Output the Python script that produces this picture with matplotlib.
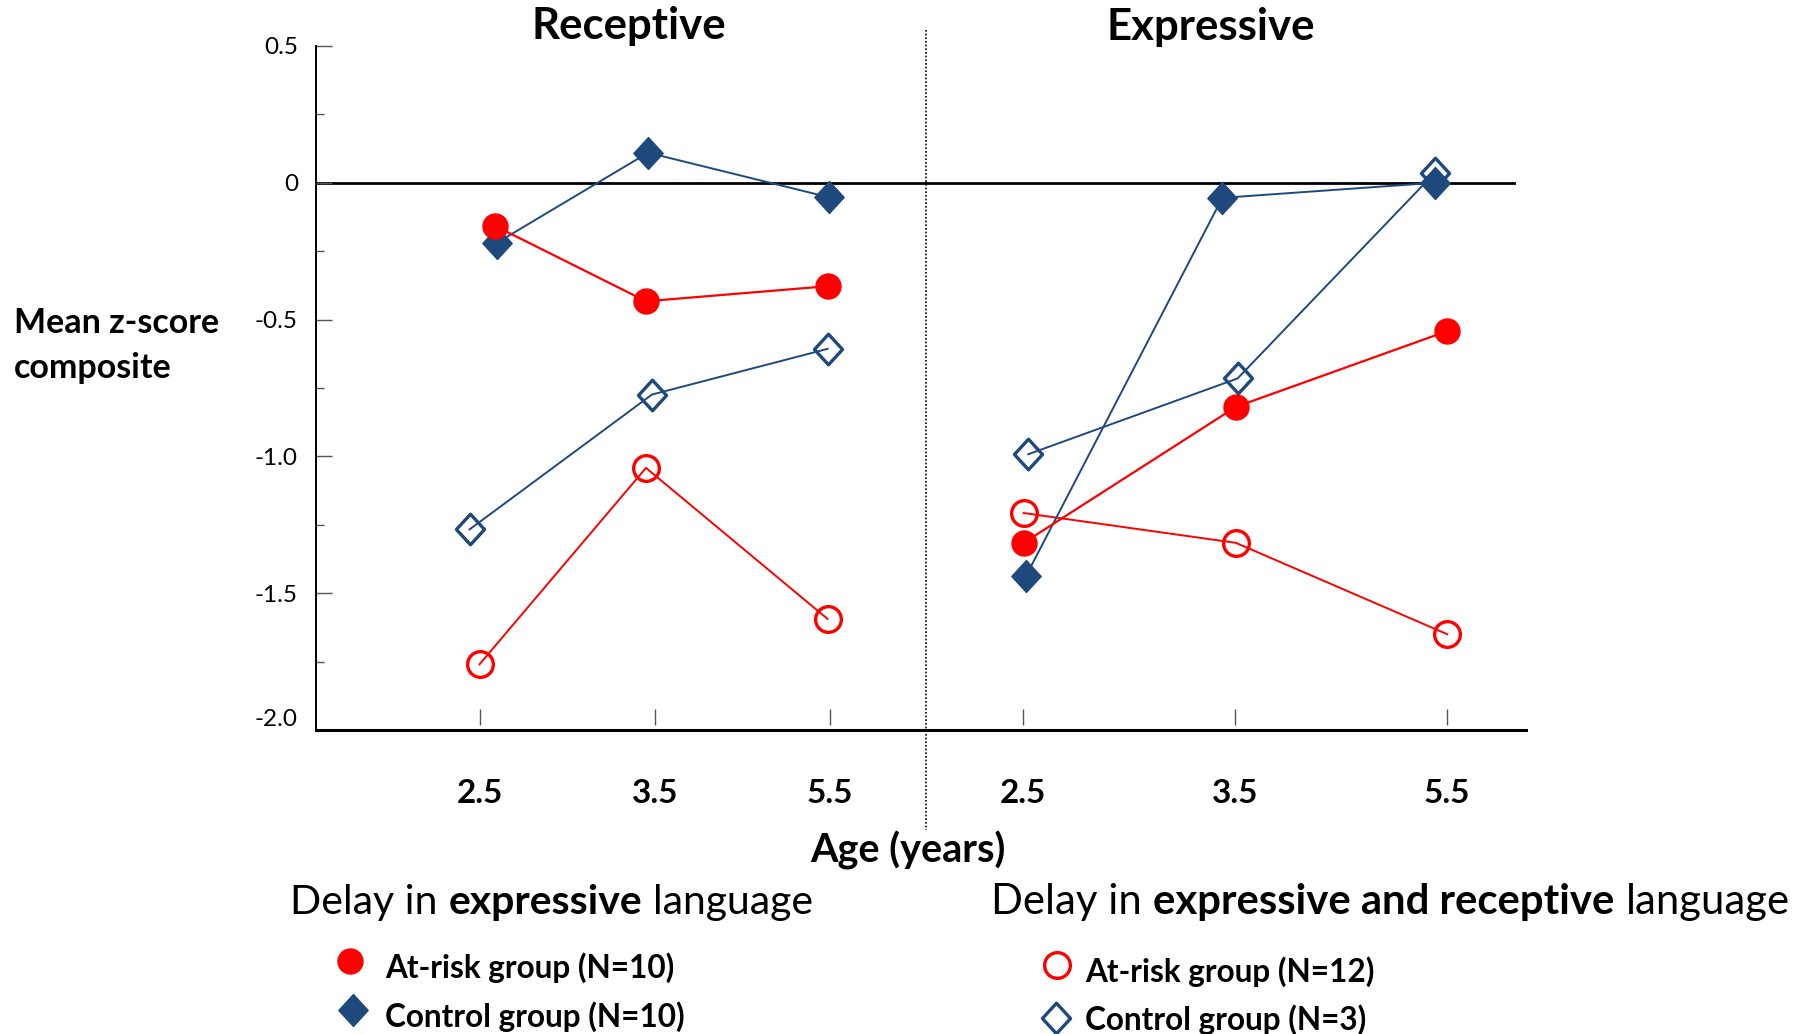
import matplotlib
matplotlib.use("Agg")
import matplotlib.pyplot as plt
from matplotlib.lines import Line2D
from matplotlib.path import Path
from matplotlib.ticker import MultipleLocator, FixedLocator
from matplotlib.transforms import ScaledTranslation

plt.rcParams['font.family'] = ['Lato', 'DejaVu Sans']

# ---- data -------------------------------------------------------------
ages = ["2.5", "3.5", "5.5"]
age_pos = [1, 2, 3]

# Receptive panel (x = jittered age position, y = mean z-score)
rec_risk_expr_x = [1.087, 1.950, 2.986]
rec_risk_expr_y = [-0.157, -0.433, -0.378]
rec_ctrl_expr_x = [1.100, 1.962, 2.994]
rec_ctrl_expr_y = [-0.219, 0.110, -0.053]
rec_risk_both_x = [1.000, 1.950, 2.986]
rec_risk_both_y = [-1.760, -1.042, -1.594]
rec_ctrl_both_x = [0.943, 1.984, 2.986]
rec_ctrl_both_y = [-1.267, -0.774, -0.607]

# Expressive panel
exp_risk_expr_x = [1.005, 2.005, 3.001]
exp_risk_expr_y = [-1.316, -0.819, -0.542]
exp_ctrl_expr_x = [1.016, 1.941, 2.941]
exp_ctrl_expr_y = [-1.437, -0.055, 0.000]
exp_risk_both_x = [1.005, 2.005, 3.001]
exp_risk_both_y = [-1.207, -1.316, -1.650]
exp_ctrl_both_x = [1.027, 2.013, 2.943]
exp_ctrl_both_y = [-0.992, -0.715, 0.037]

y_ticks = [0.5, 0.0, -0.5, -1.0, -1.5, -2.0]
y_tick_labels = ["0.5", "0", "-0.5", "-1.0", "-1.5", "-2.0"]

# ---- styling ----------------------------------------------------------
RED = "#FF0000"
NAVY = "#1F497D"
W, H = 1816, 1034
DPI = 100

diamond = Path([(0, 1), (0.92, 0), (0, -1), (-0.92, 0), (0, 1)],
               [Path.MOVETO, Path.LINETO, Path.LINETO, Path.LINETO, Path.CLOSEPOLY])

styles = {
    "risk_expr": dict(color=RED, marker="o", ms=18, mfc=RED, mec=RED, mew=1, lw=1.6),
    "ctrl_expr": dict(color=NAVY, marker=diamond, ms=23, mfc=NAVY, mec=NAVY, mew=1, lw=1.4),
    "risk_both": dict(color=RED, marker="o", ms=18.5, mfc="none", mec=RED, mew=2.4, lw=1.4),
    "ctrl_both": dict(color=NAVY, marker=diamond, ms=22, mfc="none", mec=NAVY, mew=2.4, lw=1.4),
}

fig = plt.figure(figsize=(W / DPI, H / DPI), dpi=DPI)


def fx(x):
    return x / W


def fy(y):
    return 1 - y / H


ax_bottom = fy(730)
ax_top = fy(46)
axL = fig.add_axes([fx(316), ax_bottom, fx(609), ax_top - ax_bottom])
axR = fig.add_axes([fx(925), ax_bottom, fx(601), ax_top - ax_bottom])

axL.set_xlim(0.067, 3.542)
axR.set_xlim(0.540, 3.372)
for ax in (axL, axR):
    ax.set_ylim(-2.0, 0.5)
    ax.set_facecolor("none")
    for s in ("top", "right"):
        ax.spines[s].set_visible(False)
    ax.spines["bottom"].set_linewidth(2.2)
    ax.spines["bottom"].set_color("black")
    ax.set_xticks(age_pos)
    ax.set_xticklabels(ages, fontsize=24, fontweight="bold")
    ax.tick_params(axis="x", length=0, pad=35)
    # short tick marks sitting just above the baseline
    ax.vlines(age_pos, 0.008, 0.030, transform=ax.get_xaxis_transform(),
              colors="#555555", lw=1.0, clip_on=False)

axR.spines["left"].set_visible(False)
axR.set_yticks([])

axL.spines["left"].set_linewidth(1.4)
axL.yaxis.set_major_locator(FixedLocator(y_ticks))
axL.set_yticklabels(y_tick_labels, fontsize=17.5)
axL.yaxis.set_minor_locator(MultipleLocator(0.25))
axL.tick_params(axis="y", which="major", direction="in", length=11.5, width=1,
                color="#555555", pad=13)
axL.tick_params(axis="y", which="minor", direction="in", length=5.5, width=1,
                color="#555555")
# lift the bottom label clear of the baseline
lowest = axL.get_yticklabels()[-1]
lowest.set_transform(lowest.get_transform() + ScaledTranslation(0, 12 / DPI, fig.dpi_scale_trans))

# zero reference line
axL.axhline(0, color="black", lw=2.0, zorder=1)
axR.axhline(0, xmax=0.98, color="black", lw=2.0, zorder=1)

# series
axL.plot(rec_risk_both_x, rec_risk_both_y, **styles["risk_both"], zorder=3)
axL.plot(rec_ctrl_both_x, rec_ctrl_both_y, **styles["ctrl_both"], zorder=3)
axL.plot(rec_ctrl_expr_x, rec_ctrl_expr_y, **styles["ctrl_expr"], zorder=4)
axL.plot(rec_risk_expr_x, rec_risk_expr_y, **styles["risk_expr"], zorder=5)

axR.plot(exp_risk_both_x, exp_risk_both_y, **styles["risk_both"], zorder=3)
axR.plot(exp_ctrl_both_x, exp_ctrl_both_y, **styles["ctrl_both"], zorder=3)
axR.plot(exp_ctrl_expr_x, exp_ctrl_expr_y, **styles["ctrl_expr"], zorder=4)
axR.plot(exp_risk_expr_x, exp_risk_expr_y, **styles["risk_expr"], zorder=5)

# dotted divider between panels
fig.add_artist(Line2D([fx(926), fx(926)], [fy(30), fy(830)], transform=fig.transFigure,
                      color="black", lw=1.2, ls=(0, (1, 1.2))))

# titles and axis labels
fig.text(fx(629), fy(39), "Receptive", fontsize=31.5, fontweight="bold",
         ha="center", va="baseline")
fig.text(fx(1211), fy(40), "Expressive", fontsize=31.5, fontweight="bold",
         ha="center", va="baseline")
fig.text(fx(14), fy(333), "Mean z-score", fontsize=24.5, fontweight="bold",
         ha="left", va="baseline")
fig.text(fx(14), fy(378), "composite", fontsize=24.5, fontweight="bold",
         ha="left", va="baseline")
fig.text(fx(908), fy(862), "Age (years)", fontsize=28.5, fontweight="bold",
         ha="center", va="baseline")

renderer = fig.canvas.get_renderer()


def rich_text(x, y, parts, size):
    """Write a run of normal/bold pieces along one baseline (pixel coords)."""
    cur = x
    for s, weight in parts:
        t = fig.text(fx(cur), fy(y), s, fontsize=size, fontweight=weight,
                     ha="left", va="baseline")
        bb = t.get_window_extent(renderer)
        cur = bb.x1 + 0.27 * size * DPI / 72


rich_text(290, 914, [("Delay in", "normal"), ("expressive", "bold"), ("language", "normal")], 29.5)
rich_text(991, 914, [("Delay in", "normal"), ("expressive and receptive", "bold"),
                     ("language", "normal")], 30.2)

# legend entries
legend_items = [
    (350, 961, 385, 978, "risk_expr", "At-risk group (N=10)"),
    (353, 1010, 385, 1027, "ctrl_expr", "Control group (N=10)"),
    (1057, 965, 1085, 982, "risk_both", "At-risk group (N=12)"),
    (1056, 1018, 1085, 1030, "ctrl_both", "Control group (N=3)"),
]
for mx, my, tx, ty, key, label in legend_items:
    st = dict(styles[key])
    st.pop("lw")
    st.pop("color")
    fig.add_artist(Line2D([fx(mx)], [fy(my)], transform=fig.transFigure, ls="none", **st))
    fig.text(fx(tx), fy(ty), label, fontsize=22.7, fontweight="bold", ha="left", va="baseline")

fig.savefig("out.png", dpi=DPI)
